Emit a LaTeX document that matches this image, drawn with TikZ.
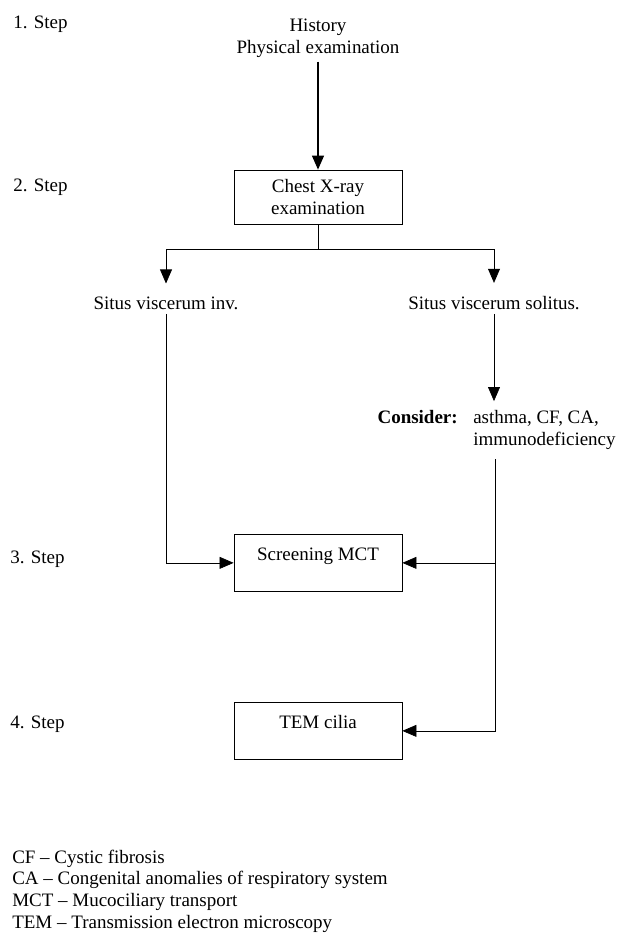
\documentclass[tikz,border=0pt]{standalone}
\usepackage{fontspec}
\setmainfont{Liberation Serif}
\usetikzlibrary{arrows.meta}

\begin{document}
\begin{tikzpicture}[x=0.025cm,y=-0.025cm,
  every node/.style={font=\fontsize{13.5}{15.3}\selectfont},
  txt/.style={inner sep=0pt},
  stepbox/.style={draw,line width=0.5pt,minimum width=4.2cm,inner sep=0pt},
  topbox/.style={stepbox,text height=0.65cm,text depth=0.775cm},
  arr/.style={-{Triangle[length=10pt,width=8.5pt]},line width=0.5pt}]
\useasboundingbox (0,0) rectangle (624,934);

% steps
\node[txt,anchor=base west] (s1) at (13,28) {1. Step};
\node[txt,anchor=base west] (s2) at (13,191) {2. Step};
\node[txt,anchor=base west] (s3) at (10,563) {3. Step};
\node[txt,anchor=base west] (s4) at (10,728) {4. Step};

% flow (base = last line)
\node[txt,align=center,anchor=base] (hist) at (318,53) {History\\Physical examination};
\node[stepbox,minimum height=1.35cm,align=center] (chest) at (318,197) {Chest X-ray\\examination};
\node[txt,anchor=base] (inv) at (166,309) {Situs viscerum inv.};
\node[txt,anchor=base] (sol) at (494,309) {Situs viscerum solitus.};
\node[txt,anchor=base east] (cons) at (458,423) {\textbf{Consider:}};
\node[txt,anchor=base west,align=left] (dd) at (473,445) {asthma, CF, CA,\\immunodeficiency};
\node[topbox,anchor=north] (mct) at (318,534) {Screening MCT};
\node[topbox,anchor=north] (tem) at (318,702) {TEM cilia};
\coordinate (split) at (318,249);
\coordinate (rtop) at (495,459);

\draw[arr,line width=1pt] ([yshift=-3pt]hist.south) -- (chest);
\draw[line width=0.5pt] (chest.south) -- (split);
\draw[arr] (split) -| ([yshift=9pt]inv.north);
\draw[arr] (split) -| ([yshift=9pt]sol.north);
\draw[arr] ([yshift=-3pt]inv.south) |- (mct.west);
\draw[arr] ([yshift=-3pt]sol.south) -- ([yshift=6pt]sol.south |- cons.north);
\draw[arr] (rtop) |- (mct.east);
\draw[arr] (rtop) |- (tem.east);

% legend
\node[txt,anchor=base west,align=left] (leg) at (12,928) {CF -- Cystic fibrosis\\CA -- Congenital anomalies of respiratory system\\MCT -- Mucociliary transport\\TEM -- Transmission electron microscopy};
\end{tikzpicture}
\end{document}
